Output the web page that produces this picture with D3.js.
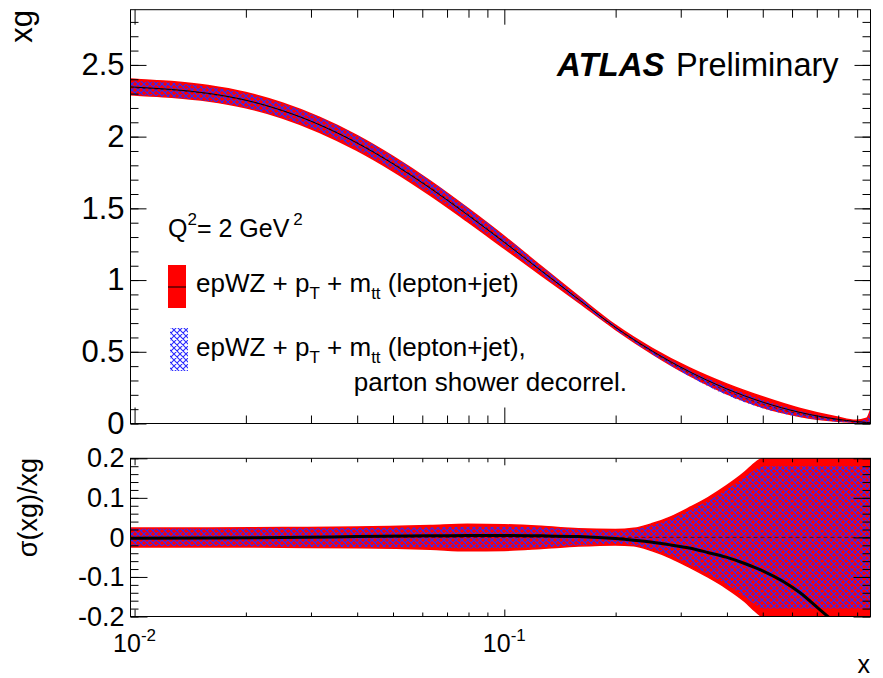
<!DOCTYPE html>
<html><head><meta charset="utf-8">
<script src="https://cdn.jsdelivr.net/npm/d3@7"></script>
<style>
body{margin:0;background:#fff;}
svg{display:block;font-family:'Liberation Sans',Arial,Helvetica,sans-serif;}
text{white-space:pre;}
.axis path.domain{display:none}
.axis line{stroke:#000;stroke-width:1}
.axis text{fill:#000}
</style></head><body>
<svg id="c" width="883" height="678"></svg>
<script>
// ---------- data ----------
// top panel: xg at Q^2 = 2 GeV^2
const xGrid      = [0.00975,0.01,0.0126,0.0158,0.02,0.0251,0.0316,0.0398,0.0501,0.0631,0.0794,0.1,0.1259,0.1585,0.1995,0.2512,0.3162,0.3981,0.5012,0.631,0.7943,0.8913,0.955,0.978];
const xgCentral  = [2.347,2.345,2.329,2.302,2.254,2.182,2.083,1.958,1.809,1.640,1.456,1.263,1.064,0.867,0.672,0.505,0.362,0.243,0.148,0.077,0.030,0.014,0.007,0.005];
const xgRedHalf  = [0.055,0.055,0.055,0.054,0.053,0.052,0.052,0.052,0.051,0.050,0.047,0.042,0.031,0.021,0.015,0.019,0.027,0.035,0.037,0.028,0.015,0.008,0.030,0.090];
const xgBlueCent = [2.342,2.340,2.325,2.298,2.252,2.181,2.085,1.962,1.814,1.646,1.463,1.269,1.068,0.868,0.669,0.499,0.352,0.229,0.134,0.066,0.024,0.011,0.006,0.005];
const xgBlueHalf = [0.050,0.050,0.050,0.050,0.049,0.048,0.048,0.047,0.046,0.045,0.042,0.036,0.026,0.017,0.012,0.016,0.022,0.029,0.030,0.021,0.011,0.006,0.025,0.080];

// bottom panel: relative uncertainty sigma(xg)/xg
const xRel       = [0.00975,0.01,0.0158,0.0251,0.0398,0.0631,0.0794,0.1,0.1259,0.1585,0.1995,0.2239,0.2512,0.2818,0.3162,0.3548,0.3981,0.4467,0.4786,0.5012,0.631,0.7079,0.7943,0.8913,0.978];
const relCentral = [-0.002,-0.002,-0.0015,0.000,0.002,0.004,0.005,0.005,0.004,0.002,-0.003,-0.007,-0.012,-0.019,-0.027,-0.038,-0.050,-0.066,-0.077,-0.085,-0.140,-0.180,-0.220,null,null];
const relRedUp   = [0.024,0.024,0.024,0.025,0.026,0.030,0.033,0.032,0.028,0.022,0.020,0.023,0.035,0.052,0.075,0.100,0.130,0.165,0.190,0.200,0.200,0.200,0.200,0.200,0.200];
const relRedDn   = [-0.024,-0.024,-0.024,-0.025,-0.026,-0.030,-0.034,-0.033,-0.028,-0.022,-0.019,-0.021,-0.034,-0.052,-0.075,-0.100,-0.128,-0.162,-0.188,-0.200,-0.200,-0.200,-0.200,-0.200,-0.200];
const relBlueUp  = [0.022,0.022,0.022,0.023,0.024,0.025,0.027,0.027,0.025,0.020,0.017,0.020,0.031,0.046,0.068,0.092,0.120,0.152,0.172,0.180,0.180,0.180,0.180,0.180,0.180];
const relBlueDn  = [-0.022,-0.022,-0.022,-0.023,-0.024,-0.025,-0.028,-0.027,-0.025,-0.020,-0.016,-0.019,-0.030,-0.046,-0.068,-0.092,-0.118,-0.150,-0.170,-0.180,-0.180,-0.180,-0.180,-0.180,-0.180];

// axis ticks
const xMajorTicks   = [0.01, 0.1];
const xMinorTicks   = [0.02,0.03,0.04,0.05,0.06,0.07,0.08,0.09,0.2,0.3,0.4,0.5,0.6,0.7,0.8,0.9];
const xTickBase     = ["10","10"];
const xTickExp      = ["-2","-1"];
const yTopTicks     = [0,0.5,1,1.5,2,2.5];
const yTopLabels    = ["0","0.5","1","1.5","2","2.5"];
const yTopMinor     = [0,0.1,0.2,0.3,0.4,0.5,0.6,0.7,0.8,0.9,1.0,1.1,1.2,1.3,1.4,1.5,1.6,1.7,1.8,1.9,2.0,2.1,2.2,2.3,2.4,2.5,2.6,2.7,2.8];
const yBotTicks     = [-0.2,-0.1,0,0.1,0.2];
const yBotLabels    = ["-0.2","-0.1","0","0.1","0.2"];
const yBotMinor     = [-0.2,-0.18,-0.16,-0.14,-0.12,-0.1,-0.08,-0.06,-0.04,-0.02,0,0.02,0.04,0.06,0.08,0.1,0.12,0.14,0.16,0.18,0.2];

const legendLabels = ["epWZ + p|T| + m|tt| (lepton+jet)", "epWZ + p|T| + m|tt| (lepton+jet),", "parton shower decorrel."];

// ---------- layout ----------
const L = 130.5, R = 870.5;
const topT = 9.7, topB = 423.5, botT = 458.3, botB = 616.5;
const FONT = "'Liberation Sans', Arial, Helvetica, sans-serif";

const svg = d3.select("#c");
const defs = svg.append("defs");

const pat = defs.append("pattern").attr("id","hatch").attr("patternUnits","userSpaceOnUse")
  .attr("width",6).attr("height",6);
pat.append("path").attr("d","M-1,-1L7,7M7,-1L-1,7M-1,5L1,7M5,-1L7,1M-1,1L1,-1M5,7L7,5")
  .attr("stroke","#2a2aff").attr("stroke-width",1.1).attr("fill","none");

defs.append("clipPath").attr("id","clipTop").append("rect")
  .attr("x",L).attr("y",topT).attr("width",R-L).attr("height",topB-topT);
defs.append("clipPath").attr("id","clipBot").append("rect")
  .attr("x",L).attr("y",botT).attr("width",R-L).attr("height",botB-botT);

const x  = d3.scaleLog().domain([0.00975, 0.978]).range([L, R]);
const yT = d3.scaleLinear().domain([0, 2.885]).range([topB, topT]);
const yB = d3.scaleLinear().domain([-0.2, 0.2]).range([botB, botT]);

// ---------- top panel ----------
const topData = xGrid.map((v,i)=>({x:v, c:xgCentral[i], r:xgRedHalf[i], bc:xgBlueCent[i], b:xgBlueHalf[i]}));
const gTop = svg.append("g").attr("clip-path","url(#clipTop)");
gTop.append("path").datum(topData)
  .attr("d", d3.area().x(d=>x(d.x)).y0(d=>yT(d.c-d.r)).y1(d=>yT(d.c+d.r)).curve(d3.curveMonotoneX))
  .attr("fill","#ff0000").attr("stroke","#ff0000").attr("stroke-width",1.5);
gTop.append("path").datum(topData)
  .attr("d", d3.area().x(d=>x(d.x)).y0(d=>yT(d.bc-d.b)).y1(d=>yT(d.bc+d.b)).curve(d3.curveMonotoneX))
  .attr("fill","url(#hatch)");
gTop.append("path").datum(topData)
  .attr("d", d3.line().x(d=>x(d.x)).y(d=>yT(d.bc)).curve(d3.curveMonotoneX))
  .attr("fill","none").attr("stroke","#000").attr("stroke-width",0.8).attr("stroke-dasharray","3,3").attr("opacity",0.6);
gTop.append("path").datum(topData)
  .attr("d", d3.line().x(d=>x(d.x)).y(d=>yT(d.c)).curve(d3.curveMonotoneX))
  .attr("fill","none").attr("stroke","#000").attr("stroke-width",1);

// ---------- bottom panel ----------
const relData = xRel.map((v,i)=>({x:v, c:relCentral[i], ru:relRedUp[i], rd:relRedDn[i], bu:relBlueUp[i], bd:relBlueDn[i]}));
const gBot = svg.append("g").attr("clip-path","url(#clipBot)");
gBot.append("path").datum(relData)
  .attr("d", d3.area().x(d=>x(d.x)).y0(d=>yB(d.rd)).y1(d=>yB(d.ru)).curve(d3.curveMonotoneX))
  .attr("fill","#ff0000").attr("stroke","#ff0000").attr("stroke-width",1.5).attr("stroke-linejoin","round");
gBot.append("path").datum(relData)
  .attr("d", d3.area().x(d=>x(d.x)).y0(d=>yB(d.bd)).y1(d=>yB(d.bu)).curve(d3.curveMonotoneX))
  .attr("fill","url(#hatch)");
gBot.append("path").datum(relData)
  .attr("d", d3.line().x(d=>x(d.x)).y(()=>yB(0)))
  .attr("fill","none").attr("stroke","#000").attr("stroke-width",0.8).attr("stroke-dasharray","4,3").attr("opacity",0.6);
gBot.append("path").datum(relData)
  .attr("d", d3.line().defined(d=>d.c!==null).x(d=>x(d.x)).y(d=>yB(d.c)).curve(d3.curveMonotoneX))
  .attr("fill","none").attr("stroke","#000").attr("stroke-width",3);

// ---------- axes ----------
function ax(gen, tx, ty) {
  const g = svg.append("g").attr("class","axis").attr("transform",`translate(${tx},${ty})`).call(gen);
  g.attr("font-family",FONT);
  return g;
}
// top panel y
ax(d3.axisLeft(yT).tickValues(yTopMinor).tickSize(-8).tickFormat(""), L, 0);
ax(d3.axisLeft(yT).tickValues(yTopTicks).tickSize(-16).tickPadding(6).tickFormat((d,i)=>yTopLabels[i]), L, 0)
  .attr("font-size",31);
ax(d3.axisRight(yT).tickValues(yTopMinor).tickSize(-8).tickFormat(""), R, 0);
ax(d3.axisRight(yT).tickValues(yTopTicks).tickSize(-16).tickFormat(""), R, 0);
// top panel x
ax(d3.axisBottom(x).tickValues(xMinorTicks).tickSize(-8).tickFormat(""), 0, topB);
ax(d3.axisBottom(x).tickValues(xMajorTicks).tickSize(-16).tickFormat(""), 0, topB);
ax(d3.axisTop(x).tickValues(xMinorTicks).tickSize(-8).tickFormat(""), 0, topT);
ax(d3.axisTop(x).tickValues(xMajorTicks).tickSize(-15).tickFormat(""), 0, topT);
// bottom panel y
ax(d3.axisLeft(yB).tickValues(yBotMinor).tickSize(-8).tickFormat(""), L, 0);
ax(d3.axisLeft(yB).tickValues(yBotTicks).tickSize(-17).tickPadding(6).tickFormat((d,i)=>yBotLabels[i]), L, 0)
  .attr("font-size",27);
ax(d3.axisRight(yB).tickValues(yBotMinor).tickSize(-8).tickFormat(""), R, 0);
ax(d3.axisRight(yB).tickValues(yBotTicks).tickSize(-17).tickFormat(""), R, 0);
// bottom panel x
ax(d3.axisBottom(x).tickValues(xMinorTicks).tickSize(-4).tickFormat(""), 0, botB);
ax(d3.axisBottom(x).tickValues(xMajorTicks).tickSize(-7).tickFormat(""), 0, botB);
ax(d3.axisTop(x).tickValues(xMinorTicks).tickSize(-4).tickFormat(""), 0, botT);
ax(d3.axisTop(x).tickValues(xMajorTicks).tickSize(-7).tickFormat(""), 0, botT);

// frames
svg.append("rect").attr("x",L).attr("y",topT).attr("width",R-L).attr("height",topB-topT)
  .attr("fill","none").attr("stroke","#000").attr("stroke-width",1);
svg.append("rect").attr("x",L).attr("y",botT).attr("width",R-L).attr("height",botB-botT)
  .attr("fill","none").attr("stroke","#000").attr("stroke-width",1);

// x tick labels 10^n
xMajorTicks.forEach((v,i)=>{
  const t = svg.append("text").attr("x",x(v)).attr("y",652).attr("text-anchor","middle")
    .attr("font-size",25).attr("font-family",FONT);
  t.append("tspan").text(xTickBase[i]);
  t.append("tspan").attr("font-size",17).attr("dy",-11).text(xTickExp[i]);
});

// axis titles
svg.append("text").attr("x",870).attr("y",673).attr("text-anchor","end").attr("font-size",25).attr("font-family",FONT).text("x");
svg.append("text").attr("transform","translate(32,10) rotate(-90)").attr("text-anchor","end")
  .attr("font-size",31).attr("font-family",FONT).text("xg");
svg.append("text").attr("transform","translate(37,458) rotate(-90)").attr("text-anchor","end")
  .attr("font-size",27).attr("font-family",FONT).text("σ(xg)/xg");

// ATLAS Preliminary
svg.append("text").attr("x",557).attr("y",76).attr("font-size",33).attr("font-family",FONT)
  .attr("font-weight","bold").attr("font-style","italic").text("ATLAS");
svg.append("text").attr("x",676).attr("y",76).attr("font-size",32.5).attr("font-family",FONT).text("Preliminary");

// ---------- legend ----------
const q = svg.append("text").attr("x",168).attr("y",237).attr("font-size",25).attr("font-family",FONT);
q.append("tspan").text("Q");
q.append("tspan").attr("font-size",17).attr("dy",-12).text("2");
q.append("tspan").attr("dy",12).text("= 2 GeV");
q.append("tspan").attr("font-size",17).attr("dy",-12).attr("dx",4).text("2");

function richText(str, xPos, yPos, anchor) {
  const t = svg.append("text").attr("x",xPos).attr("y",yPos).attr("font-size",26)
    .attr("font-family",FONT).attr("text-anchor",anchor||"start");
  str.split("|").forEach((part,i)=>{
    const sp = t.append("tspan").text(part);
    if (i%2===1) sp.attr("font-size",17).attr("dy",7);
    else if (i>0) sp.attr("dy",-7);
  });
  return t;
}
svg.append("rect").attr("x",168).attr("y",265).attr("width",18).attr("height",43).attr("fill","#ff0000");
svg.append("line").attr("x1",168).attr("x2",186).attr("y1",287).attr("y2",287).attr("stroke","#000").attr("stroke-width",1);
richText(legendLabels[0], 196, 292);
svg.append("rect").attr("x",170).attr("y",328).attr("width",18).attr("height",43).attr("fill","url(#hatch)");
richText(legendLabels[1], 196, 356);
richText(legendLabels[2], 627, 390.5, "end");
</script>
</body></html>
